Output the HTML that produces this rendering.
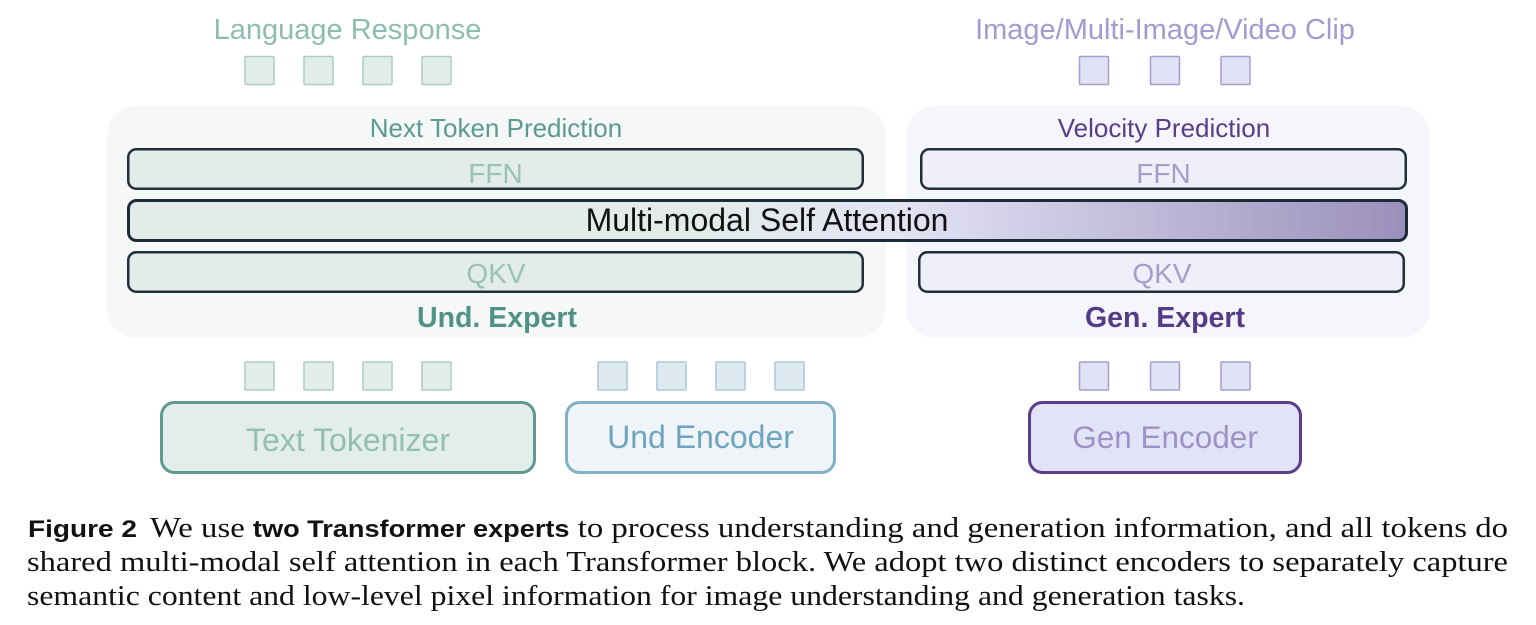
<!DOCTYPE html>
<html>
<head>
<meta charset="utf-8">
<style>
  html, body { margin: 0; padding: 0; background: #ffffff; }
  body { width: 1536px; height: 625px; overflow: hidden; }
  svg { display: block; }
  .sans { font-family: "Liberation Sans", Arial, sans-serif; }
  .serif { font-family: "Liberation Serif", "Times New Roman", serif; }
</style>
</head>
<body>
<svg width="1536" height="625" viewBox="0 0 1536 625" xmlns="http://www.w3.org/2000/svg">
  <defs>
    <linearGradient id="attn" x1="127" y1="0" x2="1408" y2="0" gradientUnits="userSpaceOnUse">
      <stop offset="0" stop-color="#e3ece8"/>
      <stop offset="0.44" stop-color="#e3ece8"/>
      <stop offset="0.60" stop-color="#e3e4f5"/>
      <stop offset="1" stop-color="#9a8fbb"/>
    </linearGradient>
  </defs>

  <!-- Top labels -->
  <text class="sans" x="347.5" y="39" font-size="29" fill="#8dbdb1" text-anchor="middle">Language Response</text>
  <text class="sans" x="1165" y="39" font-size="29" fill="#a39ad0" text-anchor="middle">Image/Multi-Image/Video Clip</text>

  <!-- Top tokens green -->
  <g fill="#e2ede8" stroke="#a9cdc5" stroke-width="1.5">
    <rect x="245" y="56.5" width="29" height="28" rx="1"/>
    <rect x="304" y="56.5" width="29" height="28" rx="1"/>
    <rect x="363" y="56.5" width="29" height="28" rx="1"/>
    <rect x="422" y="56.5" width="29" height="28" rx="1"/>
  </g>
  <!-- Top tokens purple -->
  <g fill="#e1e2f6" stroke="#a69dcf" stroke-width="1.5">
    <rect x="1079.5" y="56.5" width="29" height="28" rx="1"/>
    <rect x="1150.5" y="56.5" width="29" height="28" rx="1"/>
    <rect x="1221" y="56.5" width="29" height="28" rx="1"/>
  </g>

  <!-- Panels -->
  <rect x="107" y="106" width="779" height="232" rx="30" fill="#f6f8f7"/>
  <rect x="906" y="106" width="524" height="232" rx="30" fill="#f5f6fc"/>

  <!-- Panel titles -->
  <text class="sans" x="496" y="137" font-size="26" fill="#5b9a90" text-anchor="middle">Next Token Prediction</text>
  <text class="sans" x="1164" y="137" font-size="26" fill="#5a3d88" text-anchor="middle">Velocity Prediction</text>

  <!-- FFN bars -->
  <rect x="128.25" y="149.25" width="734.5" height="39.5" rx="8" fill="#e3ece8" stroke="#1f2f3c" stroke-width="2.5"/>
  <rect x="921.25" y="149.25" width="484.5" height="39.5" rx="8" fill="#eeeff9" stroke="#1f2f3c" stroke-width="2.5"/>
  <text class="sans" x="495.5" y="183" font-size="28" fill="#96c2b8" text-anchor="middle">FFN</text>
  <text class="sans" x="1163.5" y="183" font-size="28" fill="#a49cc9" text-anchor="middle">FFN</text>

  <!-- Attention bar -->
  <rect x="128.5" y="200.5" width="1278" height="40" rx="8" fill="url(#attn)" stroke="#1b2b38" stroke-width="3"/>
  <text class="sans" x="767" y="231" font-size="32" fill="#111111" text-anchor="middle">Multi-modal Self Attention</text>

  <!-- QKV bars -->
  <rect x="128.25" y="252.25" width="734.5" height="39.5" rx="8" fill="#e3ece8" stroke="#1f2f3c" stroke-width="2.5"/>
  <rect x="919.25" y="252.25" width="484.5" height="39.5" rx="8" fill="#eeeff9" stroke="#1f2f3c" stroke-width="2.5"/>
  <text class="sans" x="496" y="283" font-size="28" fill="#96c2b8" text-anchor="middle">QKV</text>
  <text class="sans" x="1162" y="283" font-size="28" fill="#a49cc9" text-anchor="middle">QKV</text>

  <!-- Expert labels -->
  <text class="sans" x="497" y="327" font-size="28.5" font-weight="bold" fill="#4f9288" text-anchor="middle">Und. Expert</text>
  <text class="sans" x="1165" y="327" font-size="28.5" font-weight="bold" fill="#563a85" text-anchor="middle">Gen. Expert</text>

  <!-- Bottom tokens green -->
  <g fill="#e2ede8" stroke="#a9cdc5" stroke-width="1.5">
    <rect x="245" y="362" width="29" height="28" rx="1"/>
    <rect x="304" y="362" width="29" height="28" rx="1"/>
    <rect x="363" y="362" width="29" height="28" rx="1"/>
    <rect x="422" y="362" width="29" height="28" rx="1"/>
  </g>
  <!-- Bottom tokens blue -->
  <g fill="#dfe9f1" stroke="#a9c9d8" stroke-width="1.5">
    <rect x="598" y="362" width="29" height="28" rx="1"/>
    <rect x="657" y="362" width="29" height="28" rx="1"/>
    <rect x="716" y="362" width="29" height="28" rx="1"/>
    <rect x="775" y="362" width="29" height="28" rx="1"/>
  </g>
  <!-- Bottom tokens purple -->
  <g fill="#e1e2f6" stroke="#a69dcf" stroke-width="1.5">
    <rect x="1079.5" y="362" width="29" height="28" rx="1"/>
    <rect x="1150.5" y="362" width="29" height="28" rx="1"/>
    <rect x="1221" y="362" width="29" height="28" rx="1"/>
  </g>

  <!-- Encoder boxes -->
  <rect x="161.5" y="402.5" width="373" height="70" rx="13" fill="#e3ede9" stroke="#5e9a90" stroke-width="3"/>
  <text class="sans" x="348" y="451" font-size="32" fill="#91bfb3" text-anchor="middle">Text Tokenizer</text>

  <rect x="566.5" y="402.5" width="268" height="70" rx="13" fill="#eef4f8" stroke="#80b1c7" stroke-width="3"/>
  <text class="sans" x="700.5" y="448" font-size="32" fill="#6ea4bd" text-anchor="middle">Und Encoder</text>

  <rect x="1029.5" y="402.5" width="271" height="70" rx="13" fill="#e2e3f6" stroke="#5a3e8a" stroke-width="3"/>
  <text class="sans" x="1165" y="448" font-size="31.5" fill="#9d92c6" text-anchor="middle">Gen Encoder</text>

  <!-- Caption -->
  <text class="sans" x="28" y="537" font-size="24" font-weight="bold" fill="#111" textLength="109" lengthAdjust="spacingAndGlyphs">Figure 2</text>
  <text class="serif" x="150" y="537" font-size="29" fill="#111" textLength="1358" lengthAdjust="spacingAndGlyphs">We use <tspan class="sans" font-size="24" font-weight="bold">two Transformer experts</tspan> to process understanding and generation information, and all tokens do</text>
  <text class="serif" x="27" y="571" font-size="29" fill="#111" textLength="1481" lengthAdjust="spacingAndGlyphs">shared multi-modal self attention in each Transformer block. We adopt two distinct encoders to separately capture</text>
  <text class="serif" x="27" y="605" font-size="29" fill="#111" textLength="1218" lengthAdjust="spacingAndGlyphs">semantic content and low-level pixel information for image understanding and generation tasks.</text>
</svg>
</body>
</html>
